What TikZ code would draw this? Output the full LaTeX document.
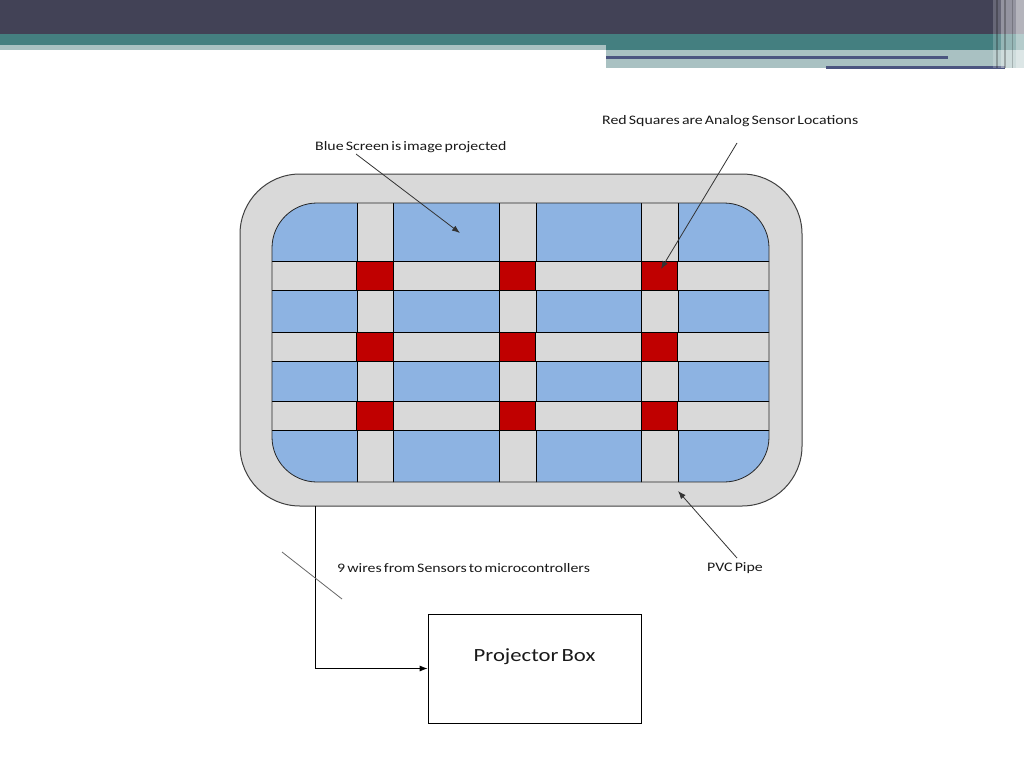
\documentclass[tikz,border=0pt]{standalone}
\usepackage{fontspec}
\setmainfont{Carlito}[FakeStretch=1.22,WordSpace=0.6]
\usetikzlibrary{arrows.meta,positioning}
\definecolor{hdr_dark}{RGB}{66,66,86}
\definecolor{hdr_teal}{RGB}{68,127,128}
\definecolor{hdr_light}{RGB}{169,193,194}
\definecolor{hdr_line}{RGB}{75,85,128}
\definecolor{scr_blue}{RGB}{141,179,226}
\definecolor{pipe_gray}{RGB}{217,217,217}
\definecolor{sens_red}{RGB}{192,0,0}
\tikzstyle{sq}=[rectangle,fill=sens_red,draw=black,line width=0.8pt,
  inner sep=0pt,minimum width=36.5pt,minimum height=29pt]
\tikzstyle{strip}=[fill=pipe_gray,draw=black,line width=0.8pt]
\tikzstyle{lbl}=[inner sep=0pt,anchor=base west,text=black!90,
  font=\fontsize{13}{16}\selectfont]
\tikzstyle{box}=[rectangle,draw=black,line width=0.8pt,minimum width=213pt,
  minimum height=109pt,text height=12pt,text depth=26pt,text=black!90,
  font=\fontsize{18.6}{22}\selectfont]
\tikzstyle{pt}=[-{Latex[length=8pt,width=6pt]},line width=0.8pt,draw=black!80]
\tikzstyle{none}=[]

\begin{document}
\begin{tikzpicture}[x=1pt,y=-1pt]
            \useasboundingbox (0,0) rectangle (1024,768);
            % header bands
            \fill[hdr_dark] (0,0) rectangle (1024,34);
            \fill[hdr_teal] (0,34) rectangle (1024,50);
            \fill[hdr_light] (0,45) rectangle (606,50);
            \fill[hdr_light] (606,50) rectangle (1024,68);
            \fill[hdr_line] (606,56) rectangle (948,59);
            \fill[hdr_line] (826,66) rectangle (1005,69);
            \fill[white,opacity=0.2] (993,0) rectangle (1024,68);
            \fill[white,opacity=0.3] (1001,0) rectangle (1024,68);
            \fill[black,opacity=0.25] (996,0) rectangle (997.5,68);
            \fill[black,opacity=0.25] (1004,0) rectangle (1005.5,68);
            \fill[black,opacity=0.2] (1012,0) rectangle (1013,68);
            \fill[white,opacity=0.3] (1016,0) rectangle (1024,68);
            % pipe
            \filldraw[fill=pipe_gray,draw=black!75,line width=1pt,rounded corners=60pt]
              (240,174) rectangle (802,506);
            % screen
            \begin{scope}
              \clip[rounded corners=45pt] (272,203) rectangle (769,482);
              \fill[scr_blue] (272,203) rectangle (769,482);
              \draw[style=strip] (357,195) rectangle (393,490);
              \draw[style=strip] (499,195) rectangle (536,490);
              \draw[style=strip] (641,195) rectangle (678,490);
              \draw[style=strip] (264,261) rectangle (777,290);
              \draw[style=strip] (264,332) rectangle (777,361);
              \draw[style=strip] (264,401) rectangle (777,430);
            \end{scope}
            \draw[black!85,line width=0.8pt,rounded corners=45pt] (272,203) rectangle (769,482);
            % sensors
            \node [style=sq] (0) at (375, 275.5) {};
            \node [style=sq] (1) at (517.5, 275.5) {};
            \node [style=sq] (2) at (659.5, 275.5) {};
            \node [style=sq] (3) at (375, 346.5) {};
            \node [style=sq] (4) at (517.5, 346.5) {};
            \node [style=sq] (5) at (659.5, 346.5) {};
            \node [style=sq] (6) at (375, 415.5) {};
            \node [style=sq] (7) at (517.5, 415.5) {};
            \node [style=sq] (8) at (659.5, 415.5) {};
            % labels
            \node [style=lbl] (9) at (315, 150) {Blue Screen is image projected};
            \node [style=lbl] (10) at (602, 124) {Red Squares are Analog Sensor Locations};
            \node [style=lbl] (11) at (337, 572) {9 wires from Sensors to microcontrollers};
            \node [style=lbl] (12) at (707, 571) {PVC Pipe};
            \node [style=box] (13) at (534.5, 668.5) {Projector Box};
            \coordinate (14) at (356, 154);
            \coordinate (15) at (460, 233);
            \coordinate (16) at (737, 143);
            \coordinate (17) at (661, 269);
            \coordinate (18) at (737, 558);
            \coordinate (19) at (678, 491);
            \coordinate (20) at (315, 506);
            \coordinate (21) at (282, 552);
            \coordinate (22) at (342, 599);
            \draw [style=pt] (14) to (15);
            \draw [style=pt] (16) to (17);
            \draw [style=pt] (18) to (19);
            \draw [style=pt, draw=black] (20) |- (13.west);
            \draw [line width=0.8pt, draw=black!60] (21) to (22);
    \end{tikzpicture}
\end{document}
